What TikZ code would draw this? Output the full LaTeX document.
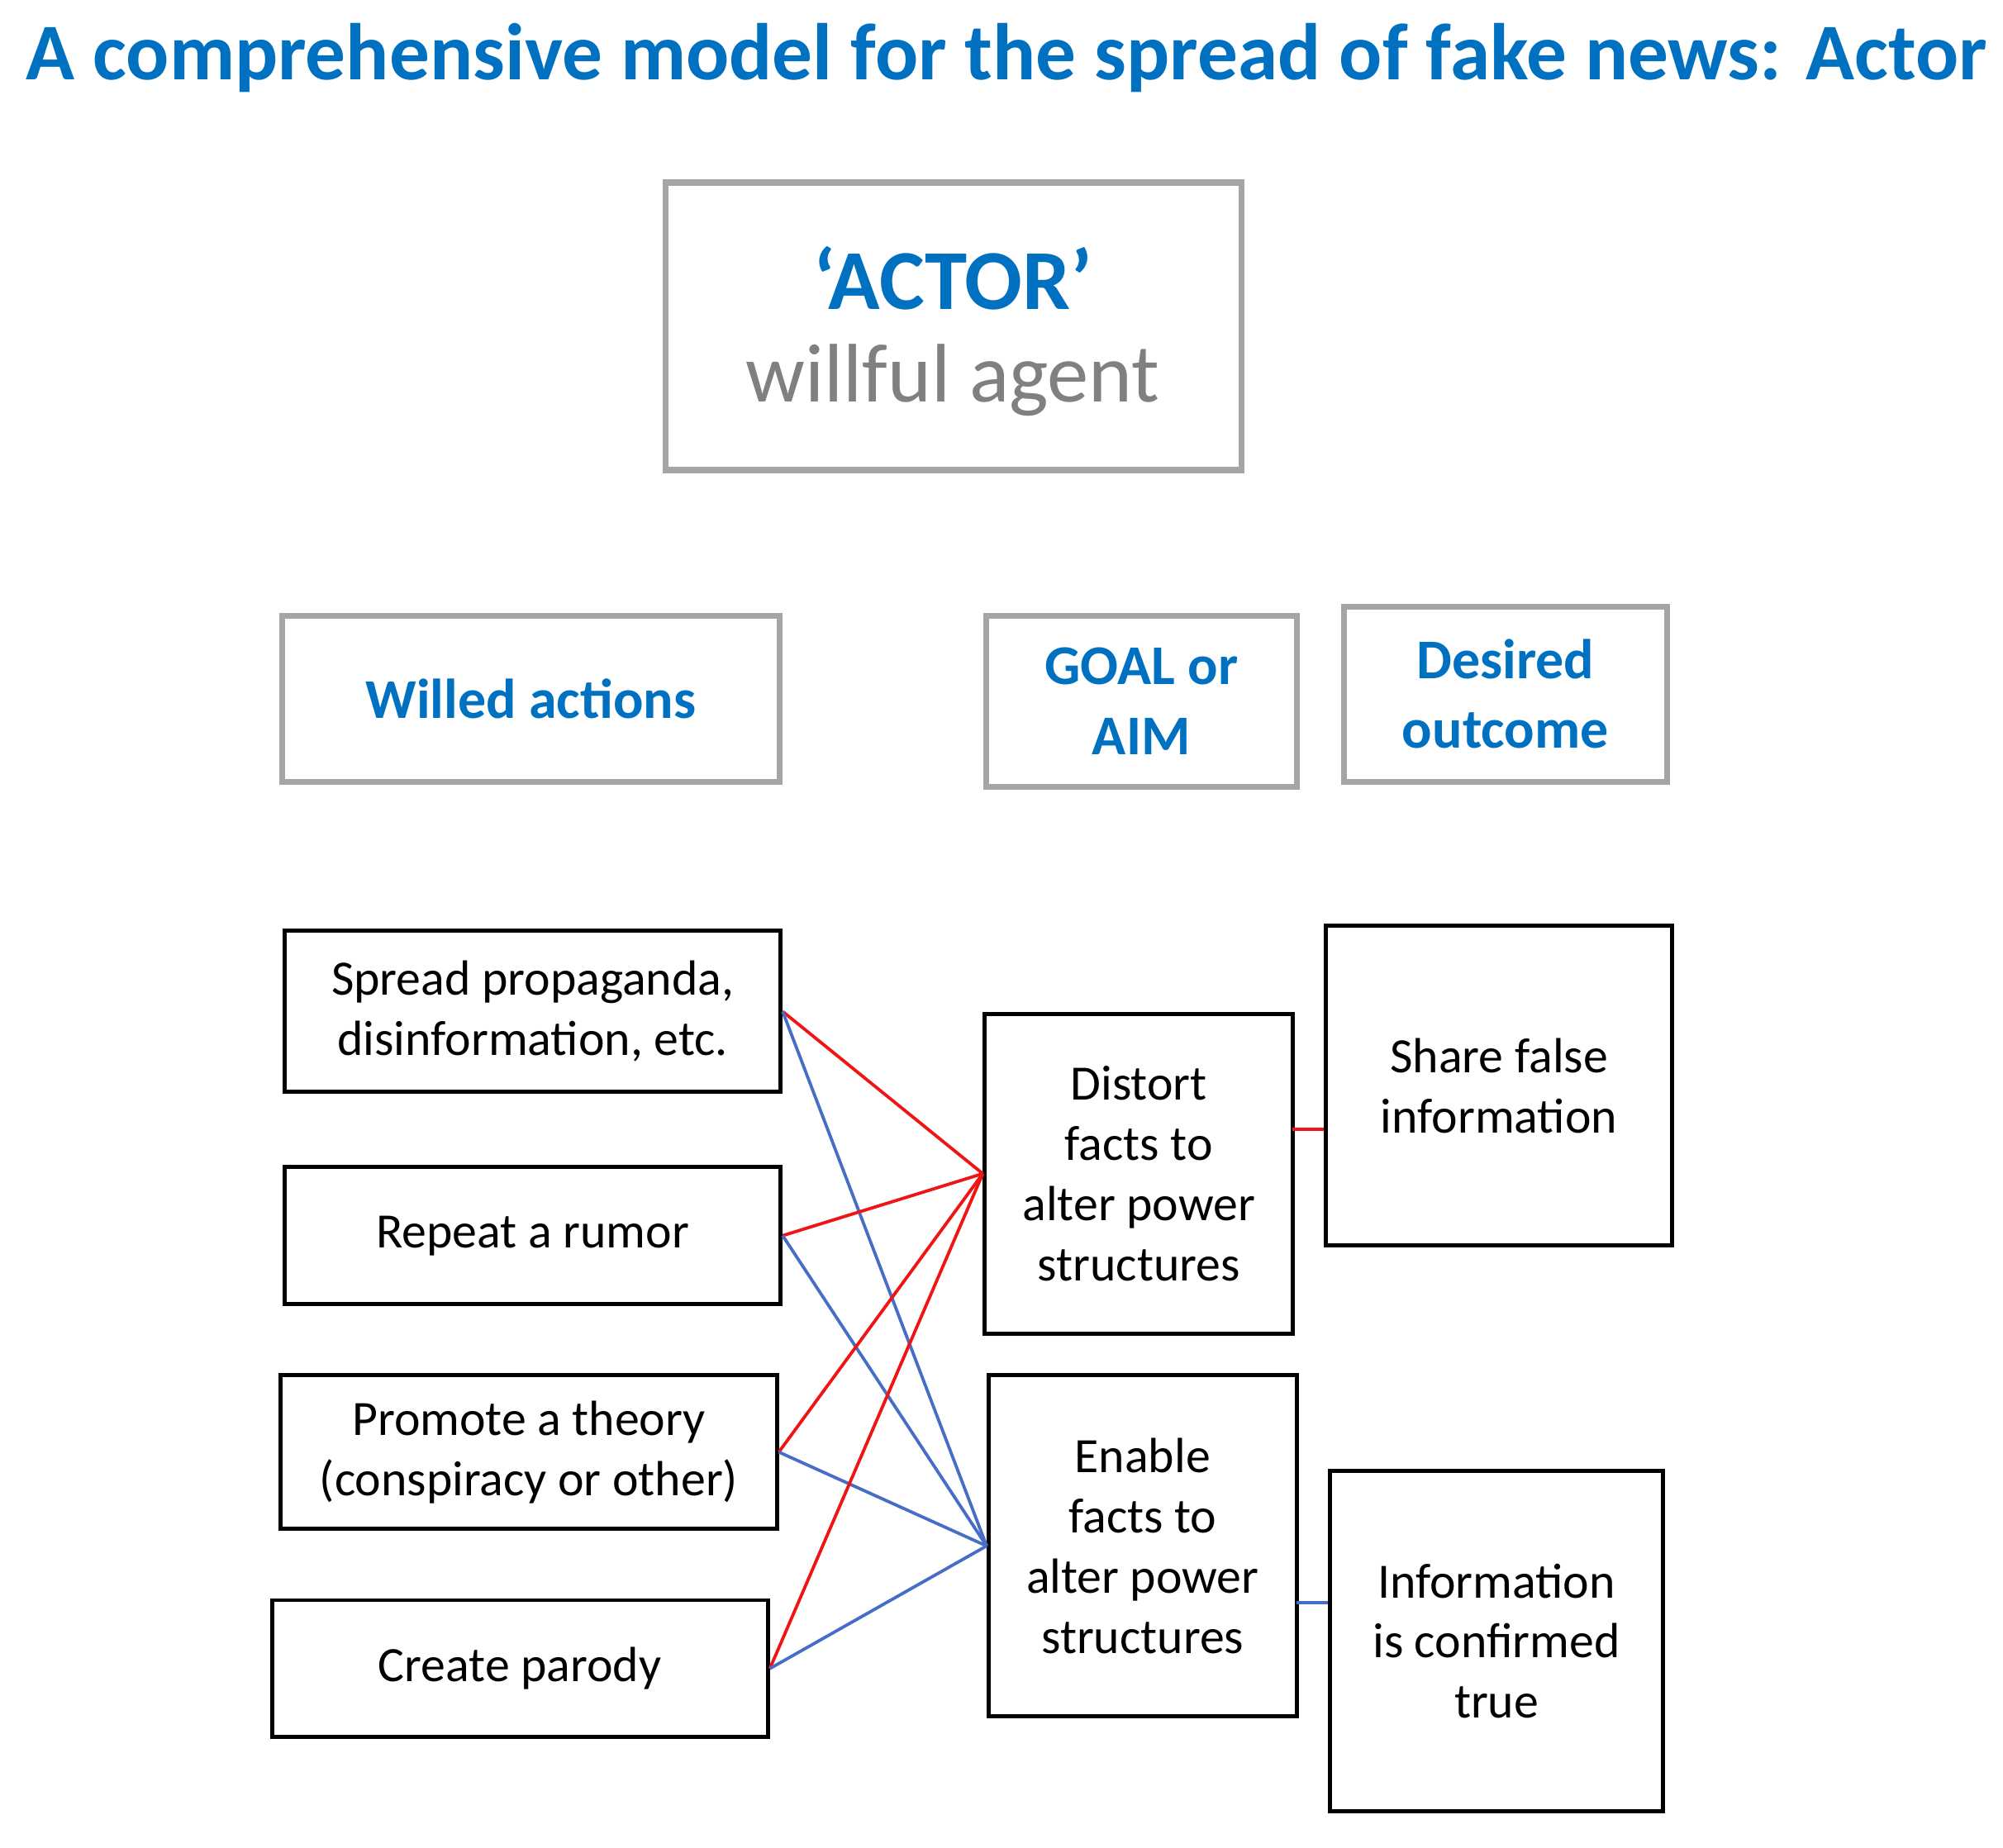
\documentclass[tikz,border=0pt]{standalone}
\usepackage{fontspec}
\setmainfont{Carlito}
\usepackage{tikz}
\definecolor{titleblue}{RGB}{0,112,192}
\definecolor{boxgray}{RGB}{165,165,165}
\definecolor{linkred}{RGB}{240,20,20}
\definecolor{linkblue}{RGB}{70,110,200}
\begin{document}
\begin{tikzpicture}[x=0.01cm, y=-0.01cm,
headbox/.style={rectangle, draw=boxgray, line width=1.3pt, align=center, text=titleblue, font=\bfseries\fontsize{12.5}{15.5}\selectfont},
itembox/.style={rectangle, draw=black, line width=0.9pt, align=center, font=\fontsize{11}{13.4}\selectfont},
redlink/.style={draw=linkred, line width=0.7pt},
bluelink/.style={draw=linkblue, line width=0.7pt},
]
\useasboundingbox (0,0) rectangle (1568,1447);
%Title
\node[text=titleblue, font=\bfseries\fontsize{17.9}{20}\selectfont, anchor=west] (title) at (8,45) {A comprehensive model for the spread of fake news: Actor};
%Actor box
\node[rectangle, draw=boxgray, line width=1.3pt, inner sep=0pt, minimum width=4.51cm, minimum height=2.25cm] (actor) at (746.5,255.5) {};
\node[text=titleblue, font=\bfseries\fontsize{19}{23}\selectfont] (actorlbl) at (746,218) {‘ACTOR’};
\node[text=gray, font=\fontsize{18.5}{22}\selectfont] (agent) at (746,298) {willful agent};
%Headings
\node[headbox, minimum width=3.89cm, minimum height=1.30cm] (willed) at (415.5,547) {Willed actions};
\node[headbox, minimum width=2.43cm, minimum height=1.34cm] (goal) at (893.5,549) {GOAL or\\AIM};
\node[headbox, minimum width=2.53cm, minimum height=1.37cm] (desired) at (1178.5,543.5) {Desired\\outcome};
%Actions
\node[itembox, minimum width=3.88cm, minimum height=1.26cm] (spread) at (417,792) {Spread propaganda,\\disinformation, etc.};
\node[itembox, minimum width=3.88cm, minimum height=1.07cm] (rumor) at (417,967.5) {Repeat a rumor};
\node[itembox, minimum width=3.88cm, minimum height=1.20cm] (theory) at (414,1137) {Promote a theory\\(conspiracy or other)};
\node[itembox, minimum width=3.88cm, minimum height=1.07cm] (parody) at (407,1306.5) {Create parody};
%Goals
\node[itembox, minimum width=2.41cm, minimum height=2.50cm] (distort) at (891.5,919) {Distort\\facts to\\alter power\\structures};
\node[itembox, minimum width=2.41cm, minimum height=2.67cm] (enable) at (894.5,1210.5) {Enable\\facts to\\alter power\\structures};
%Outcomes
\node[itembox, minimum width=2.71cm, minimum height=2.50cm] (share) at (1173.5,850) {Share false\\information};
\node[itembox, minimum width=2.61cm, minimum height=2.66cm] (confirmed) at (1171.5,1285) {Information\\is confirmed\\true};
%Lines
\foreach \a in {spread,rumor,theory,parody}{
  \draw[redlink] (\a.east) -- (distort.west);
  \draw[bluelink] (\a.east) -- (enable.west);
}
\coordinate (r1) at (1012,884);
\coordinate (b1) at (1015,1255);
\draw[redlink] (r1) -- (r1 -| share.west);
\draw[bluelink] (b1) -- (b1 -| confirmed.west);
\end{tikzpicture}
\end{document}
